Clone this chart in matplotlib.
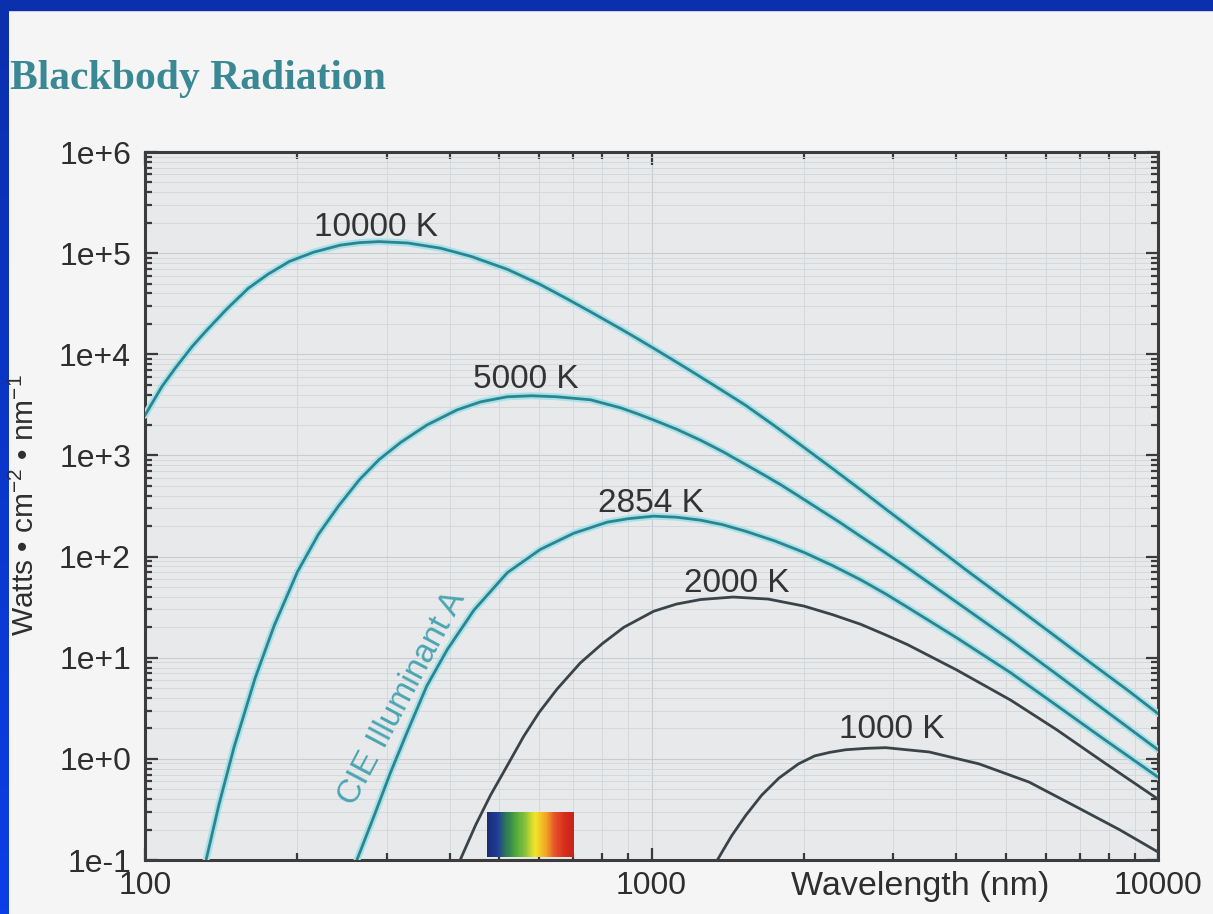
import numpy as np
import matplotlib
matplotlib.use("Agg")
import matplotlib.pyplot as plt
from matplotlib.patches import Rectangle
from matplotlib.colors import LinearSegmentedColormap
from matplotlib.ticker import LogLocator, NullFormatter

plt.rcParams['font.family'] = ['Liberation Sans', 'DejaVu Sans']
plt.rcParams['mathtext.fontset'] = 'custom'
plt.rcParams['mathtext.rm'] = 'Liberation Sans'
plt.rcParams['mathtext.it'] = 'Liberation Sans:italic'

# ---- spectral radiance curves (wavelength in nm, Watts / cm^2 / nm) ----
wl_10000 = [100, 108, 115, 124, 132, 145, 160, 175, 193, 215, 243, 265, 290, 330,
            383, 440, 520, 603, 680, 758, 870, 940, 1010, 1100, 1200, 1350, 1534,
            1750, 2000, 2280, 2589, 2900, 3500, 4200, 5122, 6200, 7500, 8700, 10000]
rad_10000 = [2.5e3, 4.8e3, 7.4e3, 1.2e4, 1.7e4, 2.8e4, 4.5e4, 6.2e4, 8.3e4, 1.02e5,
             1.2e5, 1.27e5, 1.3e5, 1.26e5, 1.12e5, 9.3e4, 6.9e4, 4.9e4, 3.55e4,
             2.63e4, 1.78e4, 1.419e4, 1.146e4, 8.85e3, 6.78e3, 4.69e3, 3.13e3,
             1.96e3, 1.2e3, 738, 457, 295, 145, 72.4, 34.7, 17.0, 8.3, 4.8, 2.8]

wl_5000 = [132, 140, 150, 165, 180, 200, 220, 241, 265, 290, 320, 360, 413, 460, 519,
           580, 650, 758, 870, 940, 1010, 1120, 1250, 1380, 1534, 1650, 1800, 1950,
           2141, 2350, 2589, 2850, 3200, 4000, 5122, 6300, 7800, 10000]
rad_5000 = [0.1, 0.355, 1.32, 6.3, 20.9, 70.8, 166, 316, 575, 912, 1349, 1995, 2818,
            3388, 3802, 3890, 3802, 3548, 2951, 2570, 2239, 1820, 1413, 1096, 813,
            661, 513, 398, 295, 219, 158, 115, 77.6, 35.5, 14.8, 6.9, 3.1, 1.23]

wl_2854 = [262, 283, 305, 329, 360, 395, 446, 519, 603, 702, 818, 900, 1010, 1120,
           1250, 1380, 1534, 1750, 2000, 2280, 2589, 2900, 3200, 4000, 5122, 6300,
           7800, 10000]
rad_2854 = [0.1, 0.269, 0.724, 1.82, 5.25, 12.0, 29.5, 69.2, 117.5, 170, 219, 237,
            251, 245, 229, 207, 178, 143, 110, 81.3, 58.9, 42.7, 31.6, 15.8, 7.08,
            3.39, 1.58, 0.66]

wl_2000 = [419, 450, 481, 520, 559, 600, 651, 724, 800, 882, 1010, 1120, 1250, 1449,
           1700, 2000, 2280, 2589, 2900, 3200, 4000, 5122, 6300, 7800, 10000]
rad_2000 = [0.1, 0.224, 0.437, 0.871, 1.66, 2.88, 4.90, 8.91, 13.8, 20.0, 28.8, 33.9,
            37.6, 39.8, 38.0, 32.4, 26.6, 21.4, 16.8, 13.5, 7.59, 3.80, 1.95, 0.93,
            0.40]

wl_1000 = [1349, 1440, 1534, 1650, 1785, 1950, 2100, 2250, 2417, 2650, 2900, 3532,
           4436, 5567, 6990, 8385, 10000]
rad_1000 = [0.1, 0.174, 0.275, 0.437, 0.646, 0.891, 1.07, 1.16, 1.23, 1.27, 1.29,
            1.17, 0.891, 0.589, 0.324, 0.20, 0.12]

curve_labels = ['10000 K', '5000 K', '2854 K', '2000 K', '1000 K']
curve_wl = [wl_10000, wl_5000, wl_2854, wl_2000, wl_1000]
curve_rad = [rad_10000, rad_5000, rad_2854, rad_2000, rad_1000]
# label offsets (points) relative to each curve's maximum
label_offsets = [(-2, 10), (-4, 12), (-2, 9), (3, 10), (4, 13)]

y_ticks = [1e-1, 1e0, 1e1, 1e2, 1e3, 1e4, 1e5, 1e6]
y_ticklabels = ['1e-1', '1e+0', '1e+1', '1e+2', '1e+3', '1e+4', '1e+5', '1e+6']
x_ticks = [100, 1000, 10000]
x_ticklabels = ['100', '1000', '10000']

# visible band drawn on the wavelength axis
visible_band = (473, 702)
visible_height = (0.108, 0.30)
visible_colors = ['#1a2c78', '#1f3c96', '#2f7a55', '#4ea83e', '#8cc43a',
                  '#f2e428', '#f2b025', '#e8582a', '#d8301e', '#c8231c']

TEAL = '#2c8490'
HALO = '#a6e2e8'
DARK = '#3a4348'
TEXT = '#333333'

W, H = 1213, 914
fig = plt.figure(figsize=(W / 100, H / 100), dpi=100, facecolor='#f4f5f4')

# blue slide frame along the top and the left edge
fig.patches.append(Rectangle((0, 1 - 10 / H), 1, 10 / H, transform=fig.transFigure,
                             color='#0a30ad', zorder=0))
edge = fig.add_axes([0, 0, 9 / W, 1])
edge.imshow(np.linspace(0, 1, 200).reshape(-1, 1), aspect='auto',
            cmap=LinearSegmentedColormap.from_list('edge', ['#0a30ad', '#0a3ee6']),
            extent=[0, 1, 0, 1])
edge.set_axis_off()

ax = fig.add_axes([145 / W, 1 - 860 / H, (1158 - 145) / W, (860 - 152) / H])
ax.set_xscale('log')
ax.set_yscale('log')
ax.set_xlim(100, 10000)
ax.set_ylim(0.1, 1e6)
ax.set_facecolor('#e7e9eb')

ax.xaxis.set_minor_locator(LogLocator(base=10, subs=np.arange(2, 10)))
ax.yaxis.set_minor_locator(LogLocator(base=10, subs=np.arange(2, 10), numticks=20))
ax.xaxis.set_minor_formatter(NullFormatter())
ax.yaxis.set_minor_formatter(NullFormatter())
ax.set_xticks(x_ticks, x_ticklabels)
ax.set_yticks(y_ticks, y_ticklabels)

ax.grid(True, which='major', color='#c9cdd0', lw=0.8)
ax.grid(True, which='minor', color='#d3d7da', lw=0.6)
ax.set_axisbelow(True)

ax.tick_params(which='both', direction='in', top=True, right=True,
               color='#3a3a3a', width=1.6, labelsize=23, labelcolor='#2e2e2e')
ax.tick_params(which='major', length=9)
ax.tick_params(which='minor', length=5)
ax.tick_params(axis='y', pad=10)
ax.tick_params(axis='x', pad=8)
for s in ax.spines.values():
    s.set_color('#3c3c3c')
    s.set_linewidth(2.2)

# curves
for i, (lab, wl, rad) in enumerate(zip(curve_labels, curve_wl, curve_rad)):
    hot = i < 3
    if hot:
        ax.plot(wl, rad, color=HALO, lw=5.0, solid_capstyle='round',
                solid_joinstyle='round', zorder=3)
        ax.plot(wl, rad, color=TEAL, lw=2.0, solid_joinstyle='round', zorder=4)
    else:
        ax.plot(wl, rad, color=DARK, lw=2.0, solid_joinstyle='round', zorder=4)
    k = int(np.argmax(rad))
    ax.annotate(lab, xy=(wl[k], rad[k]), xytext=label_offsets[i],
                textcoords='offset points', ha='center', va='center',
                fontsize=24, color=TEXT, zorder=5)

ax.text(322, 4.0, 'CIE Illuminant A', rotation=62, rotation_mode='anchor',
        ha='center', va='center', fontsize=24, color='#4aa6b2', zorder=5)

# visible spectrum swatch
band_edges = np.geomspace(visible_band[0], visible_band[1], 81)
band_vals = np.linspace(0, 1, 80).reshape(1, -1)
ax.pcolormesh(band_edges, list(visible_height), band_vals,
              cmap=LinearSegmentedColormap.from_list('vis', visible_colors),
              shading='flat', zorder=6)

fig.text(920 / W, 1 - 887 / H, 'Wavelength (nm)', ha='center', va='center',
         fontsize=24.5, color='#2e2e2e')
fig.text(25 / W, 1 - 505 / H, 'Watts • cm$^{-2}$ • nm$^{-1}$', rotation=90,
         ha='center', va='center', fontsize=21.5, color='#2e2e2e')
fig.text(10 / W, 1 - 89 / H, 'Blackbody Radiation', family='Liberation Serif',
         weight='bold', fontsize=30, color='#3a8894', va='baseline', ha='left')

fig.savefig('out.png', dpi=100, facecolor=fig.get_facecolor())
